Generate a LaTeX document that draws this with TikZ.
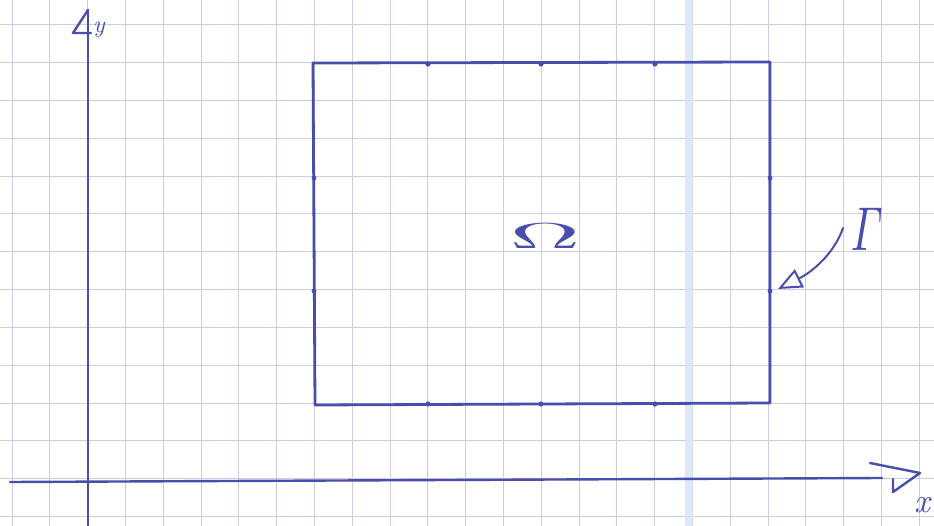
\documentclass[tikz,border=0pt]{standalone}
\usetikzlibrary{arrows.meta}
\definecolor{ink}{RGB}{72,78,172}
\definecolor{gridc}{RGB}{204,204,234}
\definecolor{band}{RGB}{210,230,243}
\tikzset{
  inkline/.style={draw=ink, line width=2.4pt, line cap=round, line join=round},
  inkthin/.style={draw=ink, line width=2pt, line cap=round, line join=round},
  gridline/.style={draw=gridc, line width=1pt},
  inktext/.style={text=ink, inner sep=0pt},
  tickdot/.style={fill=ink, draw=none},
}
\begin{document}
\begin{tikzpicture}[x=1pt,y=-1pt]
\useasboundingbox (0,0) rectangle (934,526);
\fill[white] (0,0) rectangle (934,526);
% grid paper
\foreach \k in {0,...,24} { \draw[gridline] ({12+37.8*\k},0) -- ({12+37.8*\k},526); }
\foreach \k in {0,...,13} { \draw[gridline] (0,{25+37.8*\k}) -- (934,{25+37.8*\k}); }
\fill[band, opacity=0.8] (685,0) rectangle (693,526);
% axes
\coordinate (ybot) at (88,526);
\coordinate (ytop) at (88,10);
\coordinate (xl) at (10,482);
\coordinate (xr) at (882,478);
\draw[inkline] (ybot) -- (ytop);
\draw[inkline] (ytop) -- (73,33) -- (91,33);
\node[inktext, font=\normalsize\itshape, scale=2.4] (ylab) at (99,30) {y};
\draw[inkline] (xl) -- (xr);
\draw[inkline] (870,463) -- (920,473) -- (893,492) -- (893,479);
\node[inktext, font=\normalsize\itshape, scale=3.4] (xlab) at (922,505) {x};
% domain
\coordinate (tl) at (313,63);
\coordinate (tr) at (770,62);
\coordinate (br) at (770,403);
\coordinate (bl) at (315,405);
\draw[inkline, line width=2.8pt] (tl) -- (tr) -- (br) -- (bl) -- cycle;
\foreach \x in {428,541,655} {
  \fill[tickdot] (\x,64) circle (2.6pt);
  \fill[tickdot] (\x,404) circle (2.6pt);
}
\foreach \y in {178,291} {
  \fill[tickdot] (314,\y) circle (2.4pt);
  \fill[tickdot] (770,\y) circle (2.4pt);
}
\node[inktext, font=\normalsize, xscale=9.8, yscale=3.6] (omega) at (545,236) {$\Omega$};
% boundary label
\node[inktext, font=\normalsize, xscale=4.2, yscale=6.2, xslant=0.25] (gamma) at (868,229) {$\Gamma$};
\coordinate (gs) at (843,228);
\coordinate (gt) at (778,289);
\draw[inkthin, -{Triangle[open, length=24pt, width=20pt, line width=2pt]}] (gs) .. controls (834,254) and (812,272) .. (gt);
\end{tikzpicture}
\end{document}
